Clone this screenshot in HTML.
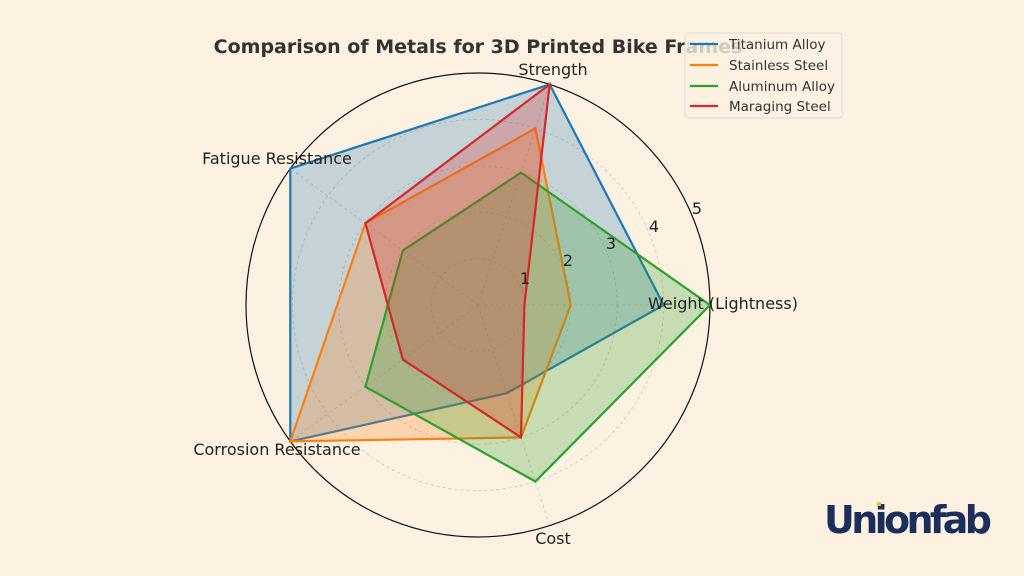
<!DOCTYPE html>
<html><head><style>
body{margin:0;width:1024px;height:576px;background:#fdf1e2;overflow:hidden}
svg{display:block}
text{font-family:"DejaVu Sans","Liberation Sans",sans-serif}
</style></head><body>
<svg width="1024" height="576" viewBox="0 0 1024 576">
<rect width="1024" height="576" fill="#fdf1e2"/>
<text x="478" y="53" text-anchor="middle" font-size="19" font-weight="bold" fill="#333">Comparison of Metals for 3D Printed Bike Frames</text>
<g fill="none" stroke="#c8c4bc" stroke-width="0.8" stroke-dasharray="3,3">
<circle cx="478" cy="305" r="46.4"/><circle cx="478" cy="305" r="92.8"/><circle cx="478" cy="305" r="139.2"/><circle cx="478" cy="305" r="185.6"/>
<line x1="478" y1="305" x2="710" y2="305"/><line x1="478" y1="305" x2="549.7" y2="84.4"/><line x1="478" y1="305" x2="290.3" y2="168.6"/><line x1="478" y1="305" x2="290.3" y2="441.4"/><line x1="478" y1="305" x2="549.7" y2="525.6"/>
</g>
<circle cx="478" cy="305" r="232" fill="none" stroke="#111" stroke-width="1.2"/>
<polygon points="663.6,305 549.7,84.4 290.3,168.6 290.3,441.4 506.7,393.2" fill="#1f77b4" fill-opacity="0.25" stroke="#1f77b4" stroke-width="2.2"/>
<polygon points="570.8,305 535.4,128.5 365.4,223.2 290.3,441.4 521,437.4" fill="#ff7f0e" fill-opacity="0.25" stroke="#ff7f0e" stroke-width="2.2"/>
<polygon points="710,305 521,172.6 402.9,250.4 365.4,386.8 535.4,481.5" fill="#2ca02c" fill-opacity="0.25" stroke="#2ca02c" stroke-width="2.2"/>
<polygon points="524.4,305 549.7,84.4 365.4,223.2 402.9,359.6 521,437.4" fill="#d62728" fill-opacity="0.25" stroke="#d62728" stroke-width="2.2"/>
<g font-size="16" fill="#222">
<text x="525" y="284" text-anchor="middle">1</text><text x="568" y="266" text-anchor="middle">2</text><text x="611" y="249" text-anchor="middle">3</text><text x="654" y="232" text-anchor="middle">4</text><text x="697" y="214" text-anchor="middle">5</text>
</g>
<g font-size="16" fill="#222">
<text x="723" y="309" text-anchor="middle">Weight (Lightness)</text>
<text x="553" y="75" text-anchor="middle">Strength</text>
<text x="277" y="164" text-anchor="middle">Fatigue Resistance</text>
<text x="277" y="455" text-anchor="middle">Corrosion Resistance</text>
<text x="553" y="544" text-anchor="middle">Cost</text>
</g>
<rect x="685" y="33" width="157" height="85" rx="3" fill="#fdf1e2" fill-opacity="0.8" stroke="#ddd"/>
<g stroke-width="2.2"><line x1="690" y1="44" x2="718" y2="44" stroke="#1f77b4"/><line x1="690" y1="65" x2="718" y2="65" stroke="#ff7f0e"/><line x1="690" y1="86" x2="718" y2="86" stroke="#2ca02c"/><line x1="690" y1="106" x2="718" y2="106" stroke="#d62728"/></g>
<g font-size="13.5" fill="#333"><text x="729" y="49">Titanium Alloy</text><text x="729" y="70">Stainless Steel</text><text x="729" y="91">Aluminum Alloy</text><text x="729" y="111">Maraging Steel</text></g>
<text x="824" y="533" font-size="38" font-weight="bold" fill="#1b2f5c" font-family="Liberation Sans,sans-serif" textLength="168">Unionfab</text>
<rect x="877" y="502" width="4" height="4" fill="#f2c230"/>
</svg>
</body></html>
